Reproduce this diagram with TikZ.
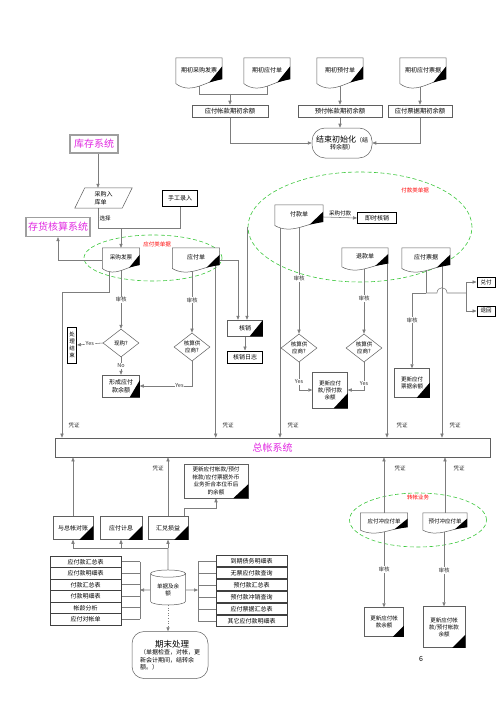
\documentclass[tikz,border=0pt]{standalone}
\usepackage{fontspec}
\setmainfont{Noto Sans CJK SC}
\usetikzlibrary{shapes.geometric,arrows.meta,calc}
\pgfdeclarelayer{paper}\pgfdeclarelayer{bg}\pgfdeclarelayer{mid}\pgfsetlayers{paper,bg,mid,main}
\definecolor{mag}{RGB}{225,40,225}
\definecolor{grn}{RGB}{60,200,60}
\definecolor{ln}{RGB}{125,125,125}
\definecolor{bd}{RGB}{95,95,95}
\newcommand{\fsz}[2]{\fontsize{#1pt}{#2pt}\selectfont}
\newcommand{\docdeco}[1]{%
\begin{pgfonlayer}{mid}
\path[draw=bd, fill=white, line width=0.5pt] let \p1=(#1.north west), \p2=(#1.south east), \n1={\x2-\x1}, \n2={\y1-\y2} in
 (\x1,\y1) -- (\x2,\y1) -- (\x2,{\y2+0.3*\n2}) .. controls ({\x1+0.7*\n1},{\y2+0.3*\n2}) and ({\x1+0.35*\n1},{\y2-0.25*\n2}) .. (\x1,{\y2+0.15*\n2}) -- cycle;
\fill let \p1=(#1.north west), \p2=(#1.south east), \n1={\x2-\x1}, \n2={\y1-\y2} in
 (\x2,{\y2+0.3*\n2}) -- (\x2,{\y2+0.72*\n2}) -- ({\x1+0.72*\n1},{\y2+0.19*\n2}) -- cycle;
\end{pgfonlayer}}
\newcommand{\btri}[3]{\fill (#1.south east) -- ([yshift=#3pt]#1.south east) -- ([xshift=-#2pt]#1.south east) -- cycle;}
\tikzset{
 base/.style={font=\fsz{6}{7.5}, align=center, inner sep=1pt, text=black},
 sz/.style 2 args={minimum width=#1pt, minimum height=#2pt},
 box/.style={base, rectangle, draw=bd, fill=white, line width=0.5pt},
 tbox/.style={box, draw=black, line width=1pt},
 sysbox/.style={base, rectangle, draw=gray!75, fill=white, line width=1.3pt, text=mag, font=\fsz{10}{12}},
 docu/.style={base, rectangle, text height=5pt, text depth=#1},
 docu/.default=6pt,
 dia/.style={base, diamond, draw=bd, fill=white, line width=0.5pt, inner sep=0pt, font=\fsz{5.5}{6.5}},
 ell/.style={ellipse, draw=grn, line width=0.6pt, dash pattern=on 4pt off 2.5pt},
 conn/.style={draw=ln, line width=0.55pt},
 arr/.style={conn, -{Triangle[length=4pt,width=3.2pt]}},
 lab/.style={font=\fsz{5.5}{6.5}, inner sep=0.8pt, fill=white, text=black!80},
 redlab/.style={font=\fsz{5.5}{6.5}, inner sep=0.5pt, text=red},
 lrow/.style={base, rectangle, draw=black!75, fill=white, line width=0.6pt, sz={71}{11.5}},
}
\begin{document}
\begin{tikzpicture}[x=1pt,y=-1pt]
\useasboundingbox (0,0) rectangle (499,706);
\begin{pgfonlayer}{paper}
\fill[white] (0,0) rectangle (499,706);
\end{pgfonlayer}
% ---------- top ----------
\node[docu, sz={46}{30}] (d1) at (199,73) {期初采购发票};
\node[docu, sz={46}{30}] (d2) at (267,73) {期初应付单};
\node[docu, sz={46}{30}] (d3) at (340,73) {期初预付单};
\node[docu, sz={46}{30}] (d4) at (423,73) {期初应付票据};
\node[box, sz={76}{12}, font=\fsz{6.3}{7.5}] (r1) at (230,111) {应付帐款期初余额};
\node[box, sz={84}{12}, font=\fsz{6.3}{7.5}] (r2) at (340,111) {预付帐款期初余额};
\node[box, sz={64}{12}, font=\fsz{6.3}{7.5}] (r3) at (420,111) {应付票据期初余额};
\node[box, rounded corners=13pt, sz={60}{30}] (t1) at (342,143) {{\fsz{8}{10}结束初始化}（结\\转余额）};
% ---------- left upper ----------
\node[sysbox, sz={48}{18}] (kc) at (94,144) {库存系统};
\node[base, sz={57}{20}, align=left] (pi) at (103.5,198) {采购入\\库单};
\draw[draw=bd, line width=0.5pt] (pi.south west) -- ([xshift=-10pt]pi.south east) -- (pi.north east) -- ([xshift=10pt]pi.north west) -- cycle;
\node[tbox, sz={35}{16}] (sg) at (180,198) {手工录入};
\node[sysbox, sz={64}{19}] (ch) at (58,227) {存货核算系统};
\node[docu, sz={37}{24}, font=\fsz{5.6}{7}] (cg) at (121,260) {采购发票};
\node[docu, sz={47}{24}] (yf) at (196,260) {应付单};
\node[dia, sz={36}{28}] (xg) at (121,343) {现购?};
\node[tbox, sz={9}{36}, font=\fsz{5.5}{7}, inner sep=0.5pt] (cs) at (72,345) {处\\理\\结\\束};
\node[box, sz={37}{22}] (xs) at (121,386) {形成应付\\款余额};
\node[dia, sz={36}{28}] (hg1) at (192,347) {核算供\\应商?};
\node[box, sz={35}{16}] (hx) at (245,328) {核销};
\node[tbox, sz={35}{12}] (hr) at (245,357) {核销日志};
% ---------- right upper ----------
\node[docu, sz={48}{24}] (fk) at (299,217) {付款单};
\node[tbox, sz={39}{11}] (js) at (377,218) {即时核销};
\node[docu, sz={46}{22}] (tk) at (365,259) {退款单};
\node[docu, sz={48}{24}] (pj) at (426,260) {应付票据};
\node[dia, sz={36}{26}] (hg2) at (299,348) {核算供\\应商?};
\node[dia, sz={36}{26}] (hg3) at (364,348) {核算供\\应商?};
\node[box, sz={35}{36}, font=\fsz{5.5}{7}] (gx) at (330,390) {更新应付\\款/预付款\\余额};
\node[box, sz={35}{29}, font=\fsz{5.5}{7}] (gp) at (412,383) {更新应付\\票据余额};
\node[tbox, sz={18}{10}, font=\fsz{5.5}{6}] (df) at (486,282) {兑付};
\node[tbox, sz={18}{10}, font=\fsz{5.5}{6}] (th) at (486,311) {退回};
% ---------- general ledger ----------
\node[box, sz={435}{19}, text=mag, font=\fsz{10}{12}, line width=0.7pt] (zb) at (272.5,447.5) {总帐系统};
% ---------- lower ----------
\node[box, sz={64}{34}, font=\fsz{5.6}{7.6}] (gw) at (216,481) {更新应付帐款/预付\\帐款/应付票据外币\\业务折合本位币后\\的余额};
\node[box, sz={40}{23}] (dz) at (73,528) {与总帐对账};
\node[box, sz={42}{23}] (yj) at (121,528) {应付计息};
\node[box, sz={40}{23}] (hd) at (168,528) {汇兑损益};
\node[base, cylinder, shape border rotate=90, aspect=0.3, draw=bd, fill=white, line width=0.5pt, sz={35}{35}, font=\fsz{5.5}{7}] (db) at (168,590) {单据及余\\额};
\node[lrow] (L1) at (85.5,561.75) {应付款汇总表};
\node[lrow] (L2) at (85.5,573.25) {应付款明细表};
\node[lrow] (L3) at (85.5,584.75) {付款汇总表};
\node[lrow] (L4) at (85.5,596.25) {付款明细表};
\node[lrow] (L5) at (85.5,607.75) {帐龄分析};
\node[lrow] (L6) at (85.5,619.25) {应付对帐单};
\node[lrow] (R1) at (251.5,561) {到期债务明细表};
\node[lrow] (R2) at (251.5,573) {无票应付款查询};
\node[lrow] (R3) at (251.5,585) {预付款汇总表};
\node[lrow] (R4) at (251.5,597) {预付款冲销查询};
\node[lrow] (R5) at (251.5,609) {应付票据汇总表};
\node[lrow] (R6) at (251.5,621) {其它应付款明细表};
\node[box, rounded corners=12pt, sz={76}{47}, align=left, font=\fsz{6}{7.5}] (qm) at (170,655) {\hspace*{15pt}{\fsz{8.5}{11}期末处理}\\（单据检查，对帐，更\\新会计期间，结转余\\额。）};
\node[docu=5pt, sz={47}{20}, font=\fsz{5.5}{7}] (ya) at (384,523) {应付冲应付单};
\node[docu=5pt, sz={44}{20}, font=\fsz{5.5}{7}] (yb) at (445,523) {预付冲应付单};
\node[box, sz={39}{29}, font=\fsz{5.5}{7}] (ga) at (384,622) {更新应付帐\\款余额};
\node[box, sz={42}{41}, font=\fsz{5.5}{7}] (gb) at (444,627) {更新应付帐\\款/预付帐款\\余额};
\node[font=\fsz{7}{8}, inner sep=0pt] (pg) at (421,659) {6};
% ---------- decorations ----------
\foreach \nm in {d1,d2,d3,d4,cg,yf,fk,tk,pj,ya,yb} {\docdeco{\nm}}
\btri{xs}{10}{17}
\btri{hx}{13}{16}
\btri{gx}{14}{15}
\btri{gp}{13}{15}
\btri{gw}{15}{14}
\btri{dz}{14}{14}
\btri{yj}{14}{14}
\btri{hd}{14}{14}
\btri{ga}{11}{11}
\btri{gb}{13}{13}
% ---------- background: ellipses and connectors ----------
\begin{pgfonlayer}{bg}
\node[ell, sz={138}{46}] (e1) at (153,258) {};
\node[ell, sz={224}{110}] (e2) at (360,227) {};
\node[ell, sz={137}{54}] (e3) at (418,520) {};
% top
\coordinate (c1) at (267,94);
\draw[conn] (d1.center) |- (c1) -- (d2.center);
\draw[arr] (r1.north |- c1) -- (r1.north);
\draw[arr] (d3.center) -- (r2.north);
\draw[arr] (r3.north |- d4.center) -- (r3.north);
\draw[arr] (r2.south) -- (r2.south |- t1.north);
\draw[arr] (r1.south) |- (t1.west);
\draw[arr] (r3.south) |- (t1.east);
% left upper
\draw[arr] ([xshift=4pt]kc.south) -- ([xshift=4pt]kc.south |- pi.north);
\coordinate (c2) at (98,228);
\draw[conn] (pi.south -| c2) -- (c2) -| (sg.south);
\draw[arr] (c2 -| cg.north) -- (cg.north);
\draw[arr] (cg.west) -| (ch.south);
\coordinate (c3) at (62,292);
\draw[arr] ([xshift=-12pt]cg.center) |- (c3) -- (c3 |- zb.north);
\draw[arr] (cg.center) -- (xg.north) node[lab, pos=0.58] {审核};
\draw[arr] (xg.west) -- (cs.east) node[lab, midway] {Yes};
\draw[arr] (xg.south) -- (xs.north) node[lab, midway] {No};
\draw[arr] (hg1.north |- yf.center) -- (hg1.north) node[lab, pos=0.55] {审核};
\draw[arr] (hg1.south) |- (xs.east) node[lab, pos=0.62] {Yes};
\draw[arr] (yf.east) -| ([xshift=-7pt]hx.north);
\draw[arr] ([xshift=-4pt]yf.east) -- ([xshift=-4pt]yf.east |- zb.north);
\draw[arr] (e2.west) -| ([xshift=2pt]hx.north);
\draw[arr] (hx.south) -- (hr.north);
% right upper
\draw[arr] (fk.east) -- (js.west) node[midway, above=1pt, font=\fsz{5.5}{6.5}, inner sep=0.5pt] {采购付款};
\draw[arr] ([xshift=-19pt]fk.center) -- ([xshift=-19pt]fk.center |- zb.north);
\draw[arr] (fk.center) -- (hg2.north) node[lab, pos=0.53] {审核};
\draw[arr] (hg3.north |- tk.center) -- (hg3.north) node[lab, pos=0.53] {审核};
\draw[arr] ([xshift=22pt]tk.center) -- ([xshift=22pt]tk.center |- zb.north);
\draw[arr] (hg2.south) |- (gx.west) node[lab, pos=0.35] {Yes};
\draw[arr] (hg3.south) |- (gx.east) node[lab, pos=0.38] {Yes};
\coordinate (c4) at (426,293);
\coordinate (c5) at (466,293);
\draw[conn] (pj.center) -- (c4);
\draw[arr] (c4) -| (gp.north) node[lab, pos=0.68] {审核};
\draw[conn] (c4) -- (437,293) .. controls (437,286) and (447,286) .. (447,293) -- (c5);
\draw[arr] (c5) |- (df.west);
\draw[arr] (c5) |- (th.west);
\draw[arr] ([xshift=16pt]pj.center) -- ([xshift=16pt]pj.center |- zb.north);
% lower
\draw[arr] (dz.north) -- (dz.north |- zb.south);
\draw[arr] (hd.north) -- (hd.north |- zb.south);
\coordinate (c6) at (216,508);
\draw[arr] ([xshift=16pt]hd.north) |- (c6) -- (gw.south);
\coordinate (c7) at (168,548);
\draw[conn] (db.north) -- (c7);
\draw[conn] (c7 -| dz.south) -- (c7 -| hd.south);
\draw[arr] (c7 -| dz.south) -- (dz.south);
\draw[arr] (c7 -| yj.south) -- (yj.south);
\draw[arr] (c7 -| hd.south) -- (hd.south);
\coordinate (jl) at (140,590);
\coordinate (jr) at (198,590);
\foreach \i in {1,...,6} {
  \draw[conn] (L\i.east) -- (L\i.east -| jl);
  \draw[conn] (R\i.west) -- (R\i.west -| jr);
}
\draw[conn] (L1.east -| jl) -- (L6.east -| jl);
\draw[conn] (R1.west -| jr) -- (R6.west -| jr);
\draw[arr] (db.west) -- (jl);
\draw[arr] (db.east) -- (jr);
\draw[arr, dotted, line width=0.7pt] (db.south) -- (db.south |- qm.north);
% right lower
\draw[arr] (ya.north) -- (ya.north |- zb.south);
\draw[arr] (yb.north) -- (yb.north |- zb.south);
\draw[arr] (ya.center) -- (ga.north) node[lab, pos=0.55] {审核};
\draw[arr] (gb.north |- yb.center) -- (gb.north) node[lab, pos=0.57] {审核};
\end{pgfonlayer}
% ---------- free labels ----------
\node[redlab] (l1) at (157,244) {应付类单据};
\node[redlab] (l2) at (415,190) {付款类单据};
\node[redlab, fill=white] (l3) at (418,497) {转帐业务};
\node[font=\fsz{5.5}{6.5}, inner sep=0.5pt, anchor=west] (l4) at (99,218) {选择};
\foreach \xx in {74,228,293,402,455} {\node[font=\fsz{5.5}{6.5}, inner sep=0.5pt, text=black!80] at (\xx,425) {凭证};}
\foreach \xx in {158,400,459} {\node[font=\fsz{5.5}{6.5}, inner sep=0.5pt, text=black!80] at (\xx,468) {凭证};}
\end{tikzpicture}
\end{document}
